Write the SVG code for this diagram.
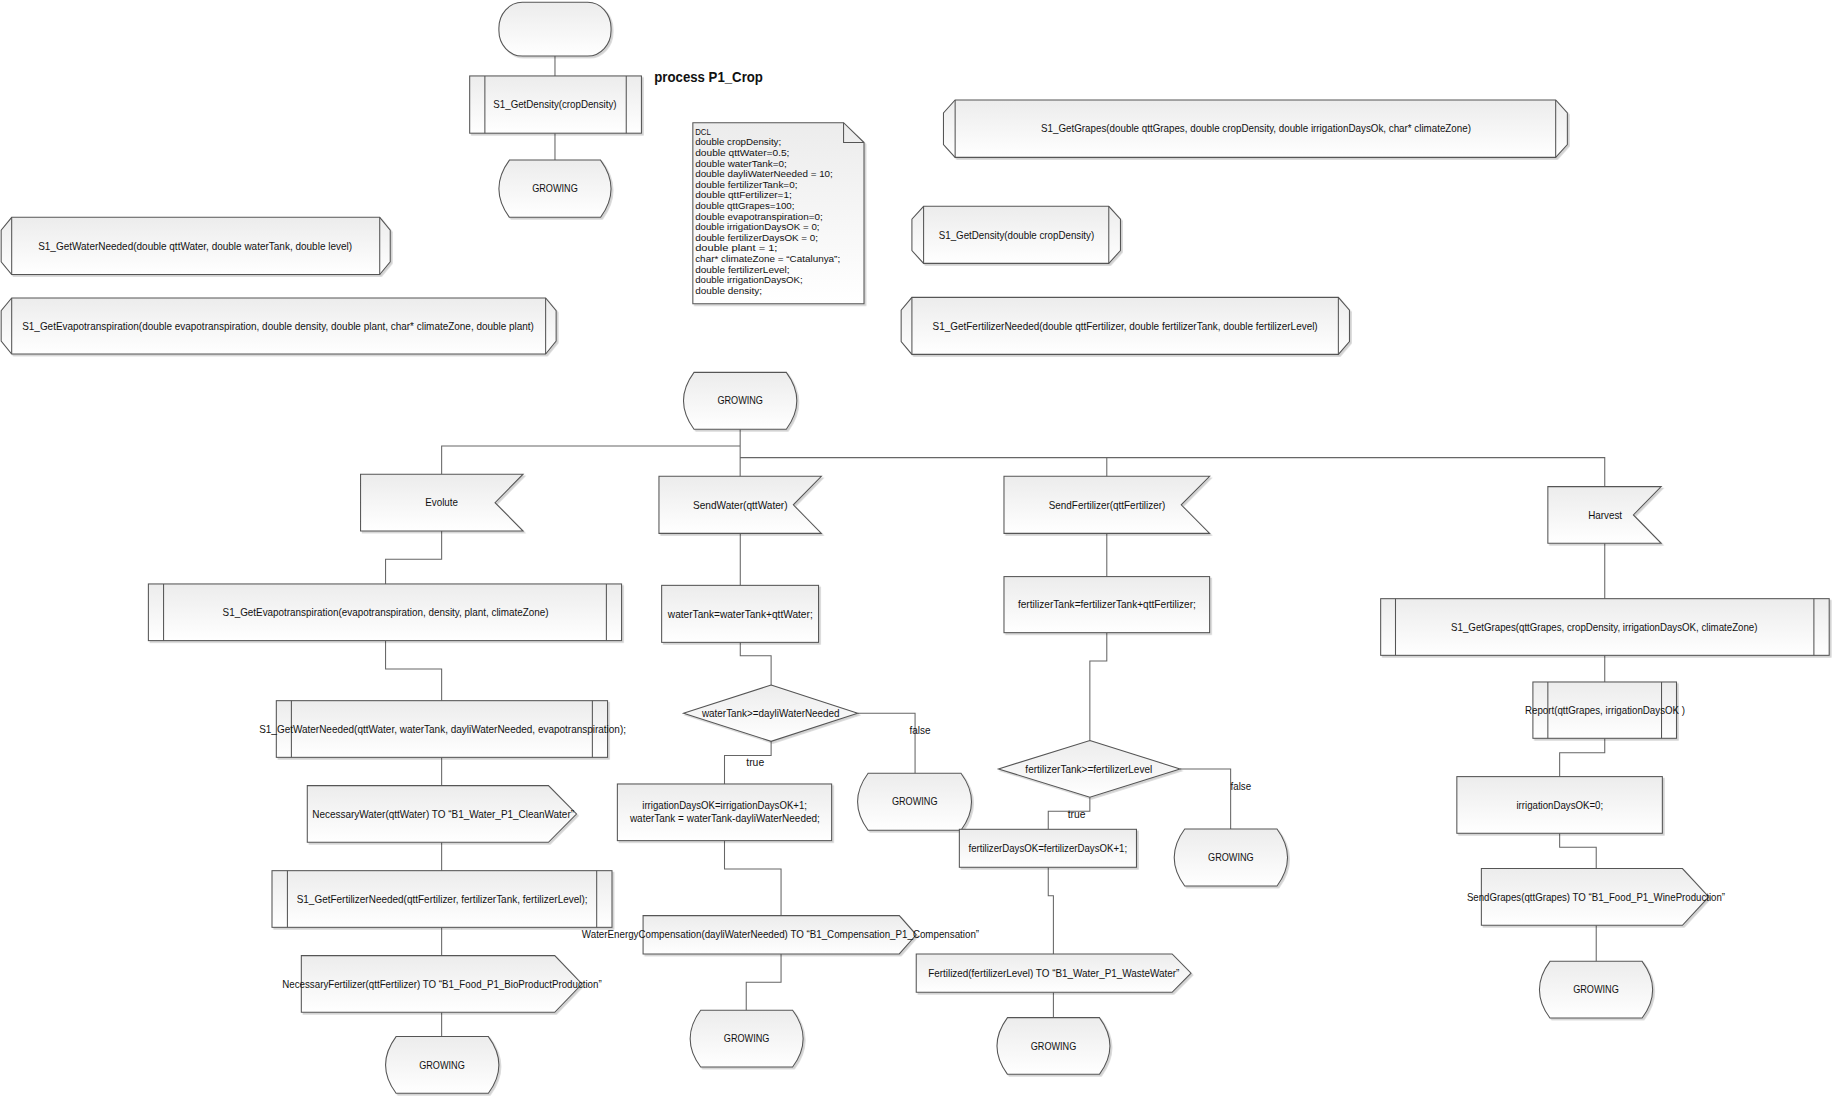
<svg xmlns="http://www.w3.org/2000/svg" width="1832" height="1096" viewBox="0 0 1832 1096">
<defs>
<linearGradient id="g" x1="0" y1="0" x2="0" y2="1"><stop offset="0" stop-color="#ececec"/><stop offset="1" stop-color="#ffffff"/></linearGradient>
<filter id="sh" x="-5%" y="-5%" width="115%" height="130%"><feDropShadow dx="1.5" dy="1.5" stdDeviation="0.6" flood-color="#000" flood-opacity="0.18"/></filter>
<style>
.s{fill:url(#g);stroke:#555;stroke-width:0.9;filter:url(#sh)}
.l{fill:none;stroke:#555;stroke-width:0.9}
.c{fill:none;stroke:#666;stroke-width:0.9}
.t{font-family:"Liberation Sans",Arial,sans-serif;font-size:9px;fill:#111;text-anchor:middle}
.n{font-family:"Liberation Sans",Arial,sans-serif;font-size:8.5px;fill:#111}
.b{font-family:"Liberation Sans",Arial,sans-serif;font-size:12.5px;font-weight:bold;fill:#111}
</style>
</defs>
<rect width="1832" height="1096" fill="#fff"/>
<g transform="scale(1.168367)">
<g id="connectors">
<path class="c" d="M475,48V65M475,114V137"/>
<path class="c" d="M633.5,367.4V407.7M633.5,381.7H378V405.9M633.5,391.7H1373.5V416.5M947.3,391.7V407.7"/>
<path class="c" d="M378,454.5V478.7H330V499.8M330,548.3V572.6H378V599.7M378,648.2V672.4M378,720.9V745.2M378,793.7V817.9M378,866.4V887.2"/>
<path class="c" d="M633.6,456.5V501M633.6,549.8V561.2H660V586.3M734.1,610.4H783.2V661.8M660,634.5V646.7H620.1V671M620.1,719.5V743.7H668.5V783.7M668.5,816.5V840.7H638.7V864.7"/>
<path class="c" d="M947.3,456.5V493.5M947.3,541.5V565.7H932.8V633.8M1010,658.1H1053.3V709.5M932.8,682.4V694.4H897.2V709.8M897.2,742.3V766.6H901.6V816.5M901.6,849.3V871"/>
<path class="c" d="M1373.5,465V512.4M1373.5,560.9V583.7M1373.5,631.9V644.2H1334.9V664.7M1334.9,713.2V725.2H1366.2V743.4M1366.2,792V822.8"/>
<text class="t" x="787.5" y="628.5" textLength="18" lengthAdjust="spacingAndGlyphs">false</text>
<text class="t" x="646.4" y="656" textLength="15.3" lengthAdjust="spacingAndGlyphs">true</text>
<text class="t" x="1062" y="676.5" textLength="17.6" lengthAdjust="spacingAndGlyphs">false</text>
<text class="t" x="921.4" y="699.8" textLength="15.2" lengthAdjust="spacingAndGlyphs">true</text>
</g>

<g id="start"><rect class="s" x="427" y="2" width="96" height="46" rx="20" ry="22"/></g>
<g id="call-getdensity"><rect class="s" x="402" y="65" width="147" height="49"/><path class="l" d="M415,65V114M536,65V114"/><text class="t" x="475" y="92.7" textLength="105.5" lengthAdjust="spacingAndGlyphs">S1_GetDensity(cropDensity)</text></g>
<g id="state-growing-0"><path class="s" d="M436,137H514Q532,161.5 514,186H436Q418,161.5 436,137Z"/><text class="t" x="475" y="164.7" textLength="39" lengthAdjust="spacingAndGlyphs">GROWING</text></g>
<g id="title"><text class="b" x="560" y="70" textLength="93" lengthAdjust="spacingAndGlyphs">process P1_Crop</text></g>

<g id="dcl-note">
<path class="s" d="M593,105H722L739.5,122V260H593Z"/><path class="l" d="M722,105V122H739.5"/>
<text class="n" x="595" y="115.4" textLength="13.4" lengthAdjust="spacingAndGlyphs">DCL</text>
<text class="n" x="595" y="124.5" textLength="73.6" lengthAdjust="spacingAndGlyphs">double cropDensity;</text>
<text class="n" x="595" y="133.5" textLength="80.7" lengthAdjust="spacingAndGlyphs">double qttWater=0.5;</text>
<text class="n" x="595" y="142.6" textLength="78.4" lengthAdjust="spacingAndGlyphs">double waterTank=0;</text>
<text class="n" x="595" y="151.7" textLength="117.8" lengthAdjust="spacingAndGlyphs">double dayliWaterNeeded = 10;</text>
<text class="n" x="595" y="160.8" textLength="87.5" lengthAdjust="spacingAndGlyphs">double fertilizerTank=0;</text>
<text class="n" x="595" y="169.8" textLength="82.7" lengthAdjust="spacingAndGlyphs">double qttFertilizer=1;</text>
<text class="n" x="595" y="178.9" textLength="85" lengthAdjust="spacingAndGlyphs">double qttGrapes=100;</text>
<text class="n" x="595" y="188" textLength="109.2" lengthAdjust="spacingAndGlyphs">double evapotranspiration=0;</text>
<text class="n" x="595" y="197" textLength="106.4" lengthAdjust="spacingAndGlyphs">double irrigationDaysOK = 0;</text>
<text class="n" x="595" y="206.1" textLength="105.2" lengthAdjust="spacingAndGlyphs">double fertilizerDaysOK = 0;</text>
<text class="n" x="595" y="215.2" textLength="70.4" lengthAdjust="spacingAndGlyphs">double plant = 1;</text>
<text class="n" x="595" y="224.2" textLength="124.1" lengthAdjust="spacingAndGlyphs">char* climateZone = “Catalunya”;</text>
<text class="n" x="595" y="233.3" textLength="80.7" lengthAdjust="spacingAndGlyphs">double fertilizerLevel;</text>
<text class="n" x="595" y="242.4" textLength="92.1" lengthAdjust="spacingAndGlyphs">double irrigationDaysOK;</text>
<text class="n" x="595" y="251.5" textLength="57.1" lengthAdjust="spacingAndGlyphs">double density;</text>
</g>

<g id="decl-getwaterneeded"><path class="s" d="M10,186H325L334,197V224L325,235H10L1,224V197Z"/><path class="l" d="M10,186V235M325,186V235"/><text class="t" x="167" y="213.7" textLength="268.7" lengthAdjust="spacingAndGlyphs">S1_GetWaterNeeded(double qttWater, double waterTank, double level)</text></g>
<g id="decl-getevapotranspiration"><path class="s" d="M10,255H467L476,266V292L467,303H10L1,292V266Z"/><path class="l" d="M10,255V303M467,255V303"/><text class="t" x="238" y="282.2" textLength="438" lengthAdjust="spacingAndGlyphs">S1_GetEvapotranspiration(double evapotranspiration, double density, double plant, char* climateZone, double plant)</text></g>
<g id="decl-getgrapes"><path class="s" d="M817.5,85.6H1331.5L1341.5,96.6V123.7L1331.5,134.7H817.5L807.5,123.7V96.6Z"/><path class="l" d="M817.5,85.6V134.7M1331.5,85.6V134.7"/><text class="t" x="1075" y="113.3" textLength="368" lengthAdjust="spacingAndGlyphs">S1_GetGrapes(double qttGrapes, double cropDensity, double irrigationDaysOk, char* climateZone)</text></g>
<g id="decl-getdensity"><path class="s" d="M790.5,176.6H949L959,187.6V214.4L949,225.4H790.5L780.5,214.4V187.6Z"/><path class="l" d="M790.5,176.6V225.4M949,176.6V225.4"/><text class="t" x="870" y="204.2" textLength="133" lengthAdjust="spacingAndGlyphs">S1_GetDensity(double cropDensity)</text></g>
<g id="decl-getfertilizerneeded"><path class="s" d="M780.5,254.5H1145.5L1155,265.5V292.3L1145.5,303.3H780.5L771.3,292.3V265.5Z"/><path class="l" d="M780.5,254.5V303.3M1145.5,254.5V303.3"/><text class="t" x="963" y="282.2" textLength="329.6" lengthAdjust="spacingAndGlyphs">S1_GetFertilizerNeeded(double qttFertilizer, double fertilizerTank, double fertilizerLevel)</text></g>

<g id="state-growing-main"><path class="s" d="M594,318.7H673Q691,343 673,367.4H594Q576,343 594,318.7Z"/><text class="t" x="633.5" y="346.2" textLength="39" lengthAdjust="spacingAndGlyphs">GROWING</text></g>

<g id="recv-evolute"><path class="s" d="M308.6,405.9H447.7L423.7,430.2L447.7,454.5H308.6Z"/><text class="t" x="378" y="433.4" textLength="28" lengthAdjust="spacingAndGlyphs">Evolute</text></g>
<g id="recv-sendwater"><path class="s" d="M564,407.7H703L679,432.1L703,456.5H564Z"/><text class="t" x="633.6" y="435.3" textLength="81" lengthAdjust="spacingAndGlyphs">SendWater(qttWater)</text></g>
<g id="recv-sendfertilizer"><path class="s" d="M859.3,407.7H1035.3L1011,432.1L1035.3,456.5H859.3Z"/><text class="t" x="947.5" y="435.3" textLength="99.8" lengthAdjust="spacingAndGlyphs">SendFertilizer(qttFertilizer)</text></g>
<g id="recv-harvest"><path class="s" d="M1324.8,416.5H1421.8L1398,440.7L1421.8,465H1324.8Z"/><text class="t" x="1373.8" y="443.9" textLength="29" lengthAdjust="spacingAndGlyphs">Harvest</text></g>

<g id="call-getevapotranspiration"><rect class="s" x="127" y="499.8" width="405" height="48.5"/><path class="l" d="M140,499.8V548.3M519,499.8V548.3"/><text class="t" x="330" y="527.2" textLength="279" lengthAdjust="spacingAndGlyphs">S1_GetEvapotranspiration(evapotranspiration, density, plant, climateZone)</text></g>
<g id="call-getwaterneeded"><rect class="s" x="236.5" y="599.7" width="283.5" height="48.5"/><path class="l" d="M249.4,599.7V648.2M507,599.7V648.2"/><text class="t" x="378.8" y="627.2" textLength="314" lengthAdjust="spacingAndGlyphs">S1_GetWaterNeeded(qttWater, waterTank, dayliWaterNeeded, evapotranspiration);</text></g>
<g id="send-necessarywater"><path class="s" d="M263,672.4H469.4L493.4,696.7L469.4,720.9H263Z"/><text class="t" x="379.3" y="699.9" textLength="224" lengthAdjust="spacingAndGlyphs">NecessaryWater(qttWater) TO “B1_Water_P1_CleanWater”</text></g>
<g id="call-getfertilizerneeded"><rect class="s" x="232.8" y="745.2" width="291" height="48.5"/><path class="l" d="M246,745.2V793.7M510.7,745.2V793.7"/><text class="t" x="378.4" y="772.7" textLength="249" lengthAdjust="spacingAndGlyphs">S1_GetFertilizerNeeded(qttFertilizer, fertilizerTank, fertilizerLevel);</text></g>
<g id="send-necessaryfertilizer"><path class="s" d="M257.9,817.9H474.8L498.1,842.2L474.8,866.4H257.9Z"/><text class="t" x="378.3" y="845.4" textLength="273.4" lengthAdjust="spacingAndGlyphs">NecessaryFertilizer(qttFertilizer) TO “B1_Food_P1_BioProductProduction”</text></g>
<g id="state-growing-1"><path class="s" d="M339,887.2H418Q436,911.5 418,935.7H339Q321,911.5 339,887.2Z"/><text class="t" x="378.3" y="914.7" textLength="39" lengthAdjust="spacingAndGlyphs">GROWING</text></g>

<g id="task-watertank"><rect class="s" x="566.3" y="501" width="134.3" height="48.8"/><text class="t" x="633.6" y="528.6" textLength="124" lengthAdjust="spacingAndGlyphs">waterTank=waterTank+qttWater;</text></g>
<g id="dec-water"><path class="s" d="M660,586.3L734.1,610.4L660,634.5L585,610.4Z"/><text class="t" x="659.7" y="613.6" textLength="117.8" lengthAdjust="spacingAndGlyphs">waterTank&gt;=dayliWaterNeeded</text></g>
<g id="state-growing-2"><path class="s" d="M743,661.8H822.5Q840.5,686.2 822.5,710.6H743Q725,686.2 743,661.8Z"/><text class="t" x="782.9" y="689.4" textLength="39" lengthAdjust="spacingAndGlyphs">GROWING</text></g>
<g id="task-irrigation"><rect class="s" x="528.4" y="671" width="183.4" height="48.5"/><text class="t" x="620.2" y="692.7" textLength="141" lengthAdjust="spacingAndGlyphs">irrigationDaysOK=irrigationDaysOK+1;</text><text class="t" x="620.4" y="703.9" textLength="162.5" lengthAdjust="spacingAndGlyphs">waterTank = waterTank-dayliWaterNeeded;</text></g>
<g id="send-compensation"><path class="s" d="M550.4,783.7H769.7L784.2,800.1L769.7,816.5H550.4Z"/><text class="t" x="668" y="803.2" textLength="340" lengthAdjust="spacingAndGlyphs">WaterEnergyCompensation(dayliWaterNeeded) TO “B1_Compensation_P1_Compensation”</text></g>
<g id="state-growing-3"><path class="s" d="M599.7,864.7H678.4Q696.4,889 678.4,913.2H599.7Q581.7,889 599.7,864.7Z"/><text class="t" x="639" y="892.2" textLength="39" lengthAdjust="spacingAndGlyphs">GROWING</text></g>

<g id="task-fertilizertank"><rect class="s" x="859.3" y="493.5" width="176" height="48"/><text class="t" x="947.4" y="520.7" textLength="152.3" lengthAdjust="spacingAndGlyphs">fertilizerTank=fertilizerTank+qttFertilizer;</text></g>
<g id="dec-fertilizer"><path class="s" d="M932.8,633.8L1010,658.1L932.8,682.4L854.6,658.1Z"/><text class="t" x="931.9" y="661.3" textLength="108.6" lengthAdjust="spacingAndGlyphs">fertilizerTank&gt;=fertilizerLevel</text></g>
<g id="state-growing-4"><path class="s" d="M1014,709.5H1093Q1111,733.9 1093,758.3H1014Q996,733.9 1014,709.5Z"/><text class="t" x="1053.5" y="737.2" textLength="39" lengthAdjust="spacingAndGlyphs">GROWING</text></g>
<g id="task-fertilizerdays"><rect class="s" x="821.1" y="709.8" width="151.6" height="32.5"/><text class="t" x="896.8" y="729.2" textLength="135.7" lengthAdjust="spacingAndGlyphs">fertilizerDaysOK=fertilizerDaysOK+1;</text></g>
<g id="send-fertilized"><path class="s" d="M784.2,816.5H1003.2L1019.4,832.9L1003.2,849.3H784.2Z"/><text class="t" x="901.9" y="836.1" textLength="215" lengthAdjust="spacingAndGlyphs">Fertilized(fertilizerLevel) TO “B1_Water_P1_WasteWater”</text></g>
<g id="state-growing-5"><path class="s" d="M862.3,871H941Q959,895.3 941,919.5H862.3Q844.3,895.3 862.3,871Z"/><text class="t" x="901.7" y="898.5" textLength="39" lengthAdjust="spacingAndGlyphs">GROWING</text></g>

<g id="call-getgrapes"><rect class="s" x="1181.7" y="512.4" width="383.9" height="48.5"/><path class="l" d="M1194.4,512.4V560.9M1552.5,512.4V560.9"/><text class="t" x="1373.1" y="539.8" textLength="262.2" lengthAdjust="spacingAndGlyphs">S1_GetGrapes(qttGrapes, cropDensity, irrigationDaysOK, climateZone)</text></g>
<g id="call-report"><rect class="s" x="1312" y="583.7" width="122.9" height="48.2"/><path class="l" d="M1324.8,583.7V631.9M1422.1,583.7V631.9"/><text class="t" x="1373.7" y="611" textLength="137" lengthAdjust="spacingAndGlyphs">Report(qttGrapes, irrigationDaysOK )</text></g>
<g id="task-irrigationreset"><rect class="s" x="1246.9" y="664.7" width="175.9" height="48.5"/><text class="t" x="1335" y="692.2" textLength="74.2" lengthAdjust="spacingAndGlyphs">irrigationDaysOK=0;</text></g>
<g id="send-sendgrapes"><path class="s" d="M1267.9,743.4H1440L1462.5,767.7L1440,792H1267.9Z"/><text class="t" x="1366" y="770.9" textLength="221" lengthAdjust="spacingAndGlyphs">SendGrapes(qttGrapes) TO “B1_Food_P1_WineProduction”</text></g>
<g id="state-growing-6"><path class="s" d="M1326.6,822.8H1405.5Q1423.5,847 1405.5,871.3H1326.6Q1308.6,847 1326.6,822.8Z"/><text class="t" x="1366" y="850.2" textLength="39" lengthAdjust="spacingAndGlyphs">GROWING</text></g>
</g>
</svg>
